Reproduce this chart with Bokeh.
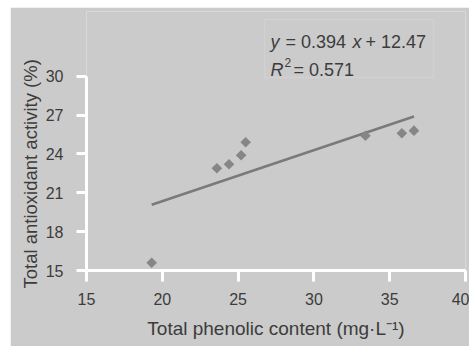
from bokeh.plotting import figure
from bokeh.models import Range1d, FixedTicker, Label, BoxAnnotation, ColumnDataSource, Title
from bokeh.embed import file_html
from bokeh.resources import INLINE
import math

# ---- data ----
phenolic = [19.3, 23.6, 24.4, 25.2, 25.5, 33.4, 35.8, 36.6]
antioxidant = [15.6, 22.9, 23.2, 23.9, 24.9, 25.4, 25.6, 25.8]
slope = 0.394
intercept = 12.47
r_squared = 0.571
x_ticks = [15, 20, 25, 30, 35, 40]
y_ticks = [15, 18, 21, 24, 27, 30]
x_label = "Total phenolic content (mg·L⁻¹)"
y_label = "Total antioxidant activity (%)"

BG = "#cbcbcb"
TXT = "#3c3c3c"
AX = "#ffffff"
FONT = "Liberation Sans"

p = figure(width=459, height=339, output_backend="svg", toolbar_location=None,
           x_range=Range1d(15, 40), y_range=Range1d(15, 35),
           min_border_left=76, min_border_right=4, min_border_top=4, min_border_bottom=76,
           margin=(7, 0, 0, 10))
p.background_fill_color = BG
p.border_fill_color = BG
p.outline_line_color = None
p.xgrid.visible = False
p.ygrid.visible = False

for ax in (p.xaxis, p.yaxis):
    ax.axis_line_color = AX
    ax.major_tick_line_color = AX
    ax.axis_line_width = 3
    ax.major_tick_line_width = 3
    ax.major_tick_in = 0
    ax.minor_tick_line_color = None
    ax.major_label_text_font = FONT
    ax.major_label_text_font_size = "16px"
    ax.major_label_text_color = TXT
    ax.axis_label_text_font = FONT
    ax.axis_label_text_font_style = "normal"
    ax.axis_label_text_color = TXT

p.xaxis.ticker = FixedTicker(ticks=x_ticks)
p.yaxis.ticker = FixedTicker(ticks=y_ticks)
p.yaxis.bounds = (y_ticks[0], y_ticks[-1])
p.xaxis.major_tick_out = 11
p.yaxis.major_tick_out = 10
p.xaxis.major_label_standoff = 11
p.yaxis.major_label_standoff = 13
p.xaxis.axis_label = x_label
p.xaxis.axis_label_text_font_size = "19px"
p.xaxis.axis_label_standoff = 10

# y-axis title, placed along the 15-30 span of the axis
p.add_layout(Title(text=y_label, align="left", offset=-18, standoff=4,
                   text_font=FONT, text_font_size="18.5px", text_font_style="normal",
                   text_color=TXT), "left")

# regression line over the data extent
x0, x1 = min(phenolic), max(phenolic)
line_src = ColumnDataSource(dict(x=[x0, x1], y=[slope * x0 + intercept, slope * x1 + intercept]))
p.line("x", "y", source=line_src, line_color="#7a7a7a", line_width=2.5)

src = ColumnDataSource(dict(x=phenolic, y=antioxidant))
p.scatter("x", "y", source=src, marker="square", size=7.5, angle=math.pi / 4,
          fill_color="#868686", line_color=None)

# equation box
p.add_layout(BoxAnnotation(left=26.74, right=37.89, bottom=29.90, top=34.38,
                           fill_color=None, line_color="#e2e2e2", line_width=1.5, level="overlay"))

ex, ey1, ey2, ey_sup = 27.14, 32.61, 30.52, 31.09
def lab(text, x, y, xo, style="normal", size="18px"):
    p.add_layout(Label(x=x, y=y, x_offset=xo, text=text, text_font=FONT,
                       text_font_size=size, text_font_style=style, text_color=TXT,
                       text_baseline="alphabetic", text_align="left"))

lab("y", ex, ey1, 0, "italic")
lab(f"= {slope}", ex, ey1, 15)
lab("x", ex, ey1, 82, "italic")
lab(f"+ {intercept}", ex, ey1, 95)
lab("R", ex, ey2, 0, "italic")
lab("2", ex, ey_sup, 14, size="12px")
lab(f"= {r_squared}", ex, ey2, 23)

open("out.html", "w").write(file_html(p, INLINE))
